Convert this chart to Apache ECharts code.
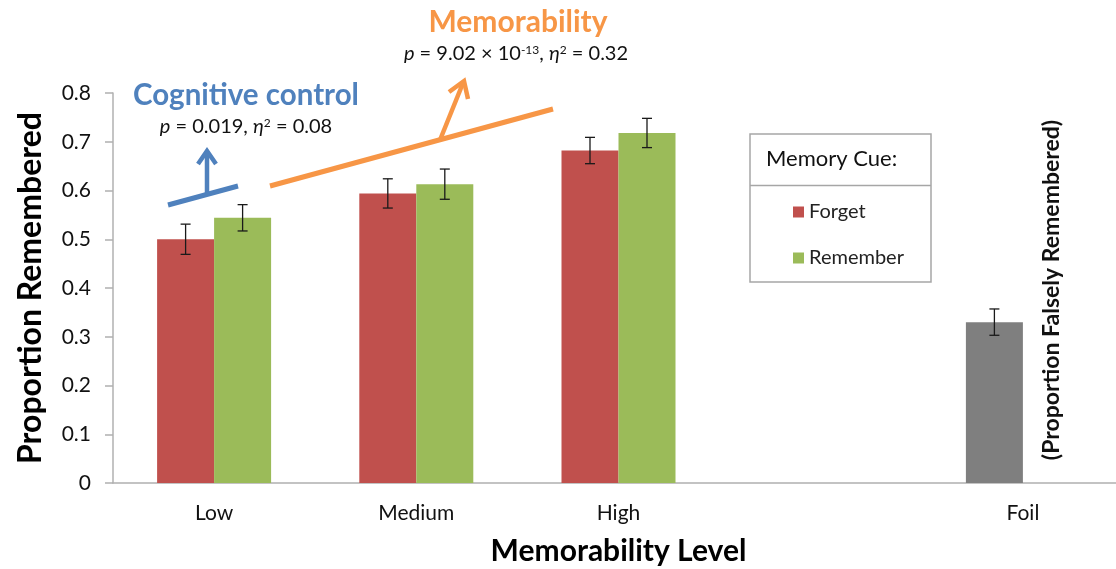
<!DOCTYPE html>
<html>
<head>
<meta charset="utf-8">
<script src="https://cdn.jsdelivr.net/npm/echarts@6/dist/echarts.min.js"></script>
<style>
  html, body { margin: 0; padding: 0; background: #fff; }
  #chart { width: 1116px; height: 569px; }
</style>
</head>
<body>
<div id="chart"></div>
<script>
// Memorability level categories (the blank slot separates the foil bar)
const categories = ['Low', 'Medium', 'High', '', 'Foil'];
// Mean proportion remembered per memory cue
const forgetValues = [0.50, 0.594, 0.682, null, null];
const rememberValues = [0.544, 0.613, 0.718, null, null];
// Foil items: proportion falsely remembered
const foilValues = [null, null, null, null, 0.33];
// Standard errors
const forgetErr = [0.031, 0.030, 0.027, null, null];
const rememberErr = [0.027, 0.031, 0.030, null, null];
const foilErr = [null, null, null, null, 0.027];
const yTicks = [0, 0.1, 0.2, 0.3, 0.4, 0.5, 0.6, 0.7, 0.8];

const FONT = 'Lato, "Open Sans", sans-serif';
const RED = '#C0504D', GREEN = '#9BBB59', GREY = '#7F7F7F';
const BLUE = '#4F81BD', ORANGE = '#F79646';
const BAR_W = 57;

// Forget slot carries the grey foil bar as well
const forgetData = forgetValues.map((v, i) =>
  foilValues[i] != null ? { value: foilValues[i], itemStyle: { color: GREY } } : v);

function errData(vals, errs) {
  const out = [];
  vals.forEach((v, i) => { if (v != null && errs[i] != null) out.push([i, v, errs[i]]); });
  return out;
}
const forgetErrData = errData(forgetValues, forgetErr).concat(errData(foilValues, foilErr));
const rememberErrData = errData(rememberValues, rememberErr);

function errorBars(offset) {
  return function (params, api) {
    const i = api.value(0), v = api.value(1), e = api.value(2);
    const hi = api.coord([i, v + e]);
    const lo = api.coord([i, v - e]);
    const x = hi[0] + offset;
    const cap = 5;
    const st = { stroke: '#1a1a1a', lineWidth: 1.3 };
    return {
      type: 'group',
      children: [
        { type: 'line', shape: { x1: x, y1: hi[1], x2: x, y2: lo[1] }, style: st },
        { type: 'line', shape: { x1: x - cap, y1: hi[1], x2: x + cap, y2: hi[1] }, style: st },
        { type: 'line', shape: { x1: x - cap, y1: lo[1], x2: x + cap, y2: lo[1] }, style: st }
      ]
    };
  };
}

const statRich = {
  i: { fontStyle: 'italic', fontSize: 20, fontFamily: FONT },
  s: { fontSize: 12, fontFamily: FONT, verticalAlign: 'top', padding: [0, 0, 8, 0] }
};

const chart = echarts.init(document.getElementById('chart'));
chart.setOption({
  animation: false,
  textStyle: { fontFamily: FONT },
  grid: { left: 113, width: 1011, top: 93, height: 390, containLabel: false, outerBoundsMode: 'none' },
  legend: {
    data: ['Forget', 'Remember'],
    orient: 'vertical',
    left: 788, top: 197,
    itemWidth: 11, itemHeight: 11, itemGap: 26,
    icon: 'rect',
    textStyle: { fontFamily: FONT, fontSize: 20, color: '#222', lineHeight: 20 }
  },
  xAxis: {
    type: 'category',
    data: categories,
    axisLine: { lineStyle: { color: '#b0b0b0', width: 1.5 } },
    axisTick: { length: 8, lineStyle: { color: '#b0b0b0', width: 1.5 } },
    axisLabel: { fontSize: 21, color: '#111', margin: 20, fontFamily: FONT },
    name: 'Memorability Level',
    nameLocation: 'middle',
    nameGap: 53,
    nameTextStyle: { fontSize: 30, fontWeight: 'bold', color: '#000', fontFamily: FONT }
  },
  yAxis: {
    type: 'value',
    min: 0, max: 0.8, interval: 0.1,
    splitLine: { show: false },
    axisLine: { show: true, lineStyle: { color: '#b0b0b0', width: 1.5 } },
    axisTick: { show: true, length: 8, lineStyle: { color: '#b0b0b0', width: 1.5 } },
    axisLabel: {
      fontSize: 21, color: '#111', margin: 22, fontFamily: FONT,
      formatter: v => { const t = yTicks.find(x => Math.abs(x - v) < 1e-9); return t == null ? '' : String(t); }
    },
    name: 'Proportion Remembered',
    nameLocation: 'middle',
    nameGap: 66,
    nameRotate: 90,
    nameTextStyle: { fontSize: 32, fontWeight: 'bold', color: '#000', fontFamily: FONT }
  },
  series: [
    { name: 'Forget', type: 'bar', data: forgetData, barWidth: BAR_W, barGap: '0%',
      itemStyle: { color: RED } },
    { name: 'Remember', type: 'bar', data: rememberValues, barWidth: BAR_W, barGap: '0%',
      itemStyle: { color: GREEN } },
    { type: 'custom', renderItem: errorBars(-BAR_W / 2), data: forgetErrData, z: 10, silent: true },
    { type: 'custom', renderItem: errorBars(BAR_W / 2), data: rememberErrData, z: 10, silent: true }
  ],
  graphic: [
    // legend frame
    { type: 'rect', shape: { x: 750, y: 134, width: 181, height: 148 },
      style: { fill: '#fff', stroke: '#a6a6a6', lineWidth: 1.5 }, z: 0 },
    { type: 'line', shape: { x1: 750, y1: 185.5, x2: 931, y2: 185.5 },
      style: { stroke: '#a6a6a6', lineWidth: 1.5 }, z: 0 },
    { type: 'text', x: 766, y: 159, z: 1,
      style: { text: 'Memory Cue:', font: '22px ' + FONT, fill: '#111', verticalAlign: 'middle' } },

    // cognitive control annotation
    { type: 'line', shape: { x1: 168, y1: 205, x2: 238, y2: 186 },
      style: { stroke: BLUE, lineWidth: 5 } },
    { type: 'line', shape: { x1: 207, y1: 195, x2: 207, y2: 151 },
      style: { stroke: BLUE, lineWidth: 4.5 } },
    { type: 'polyline', shape: { points: [[198, 164], [207, 151], [216, 164]] },
      style: { stroke: BLUE, lineWidth: 4.5, fill: null, lineJoin: 'miter' } },
    { type: 'text', x: 246, y: 95,
      style: { text: 'Cognitive control', font: 'bold 29.5px ' + FONT, fill: BLUE,
               align: 'center', verticalAlign: 'middle' } },
    { type: 'text', x: 246, y: 127,
      style: {
        text: '{i|p} = 0.019, {i|η}{s|2} = 0.08',
        align: 'center', verticalAlign: 'middle',
        font: '20px ' + FONT, fill: '#111', rich: statRich
      } },

    // memorability annotation
    { type: 'line', shape: { x1: 270, y1: 186, x2: 553, y2: 109 },
      style: { stroke: ORANGE, lineWidth: 5 } },
    { type: 'line', shape: { x1: 440, y1: 140, x2: 463, y2: 83 },
      style: { stroke: ORANGE, lineWidth: 4.5 } },
    { type: 'polyline', shape: { points: [[449, 92], [464, 81], [468, 99]] },
      style: { stroke: ORANGE, lineWidth: 4.5, fill: null, lineJoin: 'miter' } },
    { type: 'text', x: 518, y: 22,
      style: { text: 'Memorability', font: 'bold 30px ' + FONT, fill: ORANGE,
               align: 'center', verticalAlign: 'middle' } },
    { type: 'text', x: 516, y: 54,
      style: {
        text: '{i|p} = 9.02 × 10{s|-13}, {i|η}{s|2} = 0.32',
        align: 'center', verticalAlign: 'middle',
        font: '20px ' + FONT, fill: '#111', rich: statRich
      } },

    // foil axis note
    { type: 'text', x: 1052, y: 290, rotation: Math.PI / 2,
      style: { text: '(Proportion Falsely Remembered)', font: 'bold 23px ' + FONT, fill: '#111',
               align: 'center', verticalAlign: 'middle' } }
  ]
});
</script>
</body>
</html>
